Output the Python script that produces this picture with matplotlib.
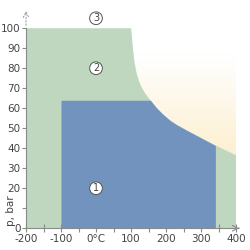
import numpy as np
import matplotlib.pyplot as plt
from matplotlib.patches import Polygon

# boundary of region 2 (upper limit), temperature in degC, pressure in bar
curve_t = [-200, 100, 101, 103, 106, 110, 116, 123, 131, 140, 150, 160, 173, 190,
           211, 230, 259, 340, 400]
curve_p = [100, 100, 99, 95, 89, 83, 77.5, 73.5, 70.3, 67.6, 65.2, 63, 60.2, 57.2,
           54, 51.8, 49, 41.5, 36.5]

# region 1 limits
r1_tmin = -100
r1_tmax = 341
r1_pmax = 64

xticks = [-200, -100, 0, 100, 200, 300, 400]
xlabels = ["-200", "-100", "0°C", "100", "200", "300", "400"]
yticks = [0, 10, 20, 30, 40, 50, 60, 70, 80, 90, 100]
ylabels = ["0", "", "20", "30", "40", "50", "60", "70", "80", "90", "100"]

green = "#bfd6bf"
blue = "#7193bd"
grey = "#8a8a8a"
text_c = "#444444"


def main():
    fig = plt.figure(figsize=(2.5, 2.5), dpi=100)
    ax = fig.add_axes([0.104, 0.087, 0.868, 0.88])
    ax.set_xlim(-200, 420)
    ax.set_ylim(0, 110)

    ct = np.array(curve_t, dtype=float)
    cp = np.array(curve_p, dtype=float)

    # region 2 (green)
    green_pts = [(-200, 0)] + list(zip(ct, cp)) + [(400, 0)]
    ax.add_patch(Polygon(green_pts, closed=True, fc=green, ec="none", zorder=1))

    # region 1 (blue): below min(p max, curve)
    tt = np.linspace(r1_tmin, r1_tmax, 400)
    top = np.minimum(r1_pmax, np.interp(tt, ct, cp))
    ax.fill_between(tt, 0, top, color=blue, lw=0, zorder=2)

    # yellow gradient region right of the curve
    ytop = 88
    mask = cp < ytop
    yel_pts = [(ct[mask][0] - 3, ytop)] + list(zip(ct[mask], cp[mask])) + [(400, ytop)]
    clip = Polygon(yel_pts, closed=True, fc="none", ec="none")
    ax.add_patch(clip)
    grad = np.linspace(0, 1, 256)
    img = np.ones((256, 1, 3))
    yel = np.array([253, 239, 207]) / 255.0
    for k in range(3):
        img[:, 0, k] = 1 - (1 - yel[k]) * (1 - grad) ** 1.1
    im = ax.imshow(img, extent=[100, 400, 36, ytop], origin="lower",
                   aspect="auto", zorder=0.5)
    im.set_clip_path(clip)

    # circled region numbers
    for lab, x, y in [("1", 0, 20), ("2", 0, 80), ("3", 0, 105)]:
        ax.text(x, y, lab, ha="center", va="center", fontsize=7, color=text_c,
                zorder=5, clip_on=False,
                bbox=dict(boxstyle="circle,pad=0.14", fc="white", ec="#555555", lw=0.7))

    # axes styling
    for s in ["top", "right"]:
        ax.spines[s].set_visible(False)
    ax.spines["left"].set_bounds(0, 100)
    ax.spines["bottom"].set_bounds(-200, 400)
    ax.spines["left"].set_color(grey)
    ax.spines["bottom"].set_color(grey)
    ax.spines["left"].set_zorder(6)
    ax.spines["bottom"].set_zorder(6)

    ax.set_xticks(xticks)
    ax.set_xticklabels(xlabels)
    ax.set_xticks([-150, -50, 50, 150, 250, 350], minor=True)
    ax.set_yticks(yticks)
    ax.set_yticklabels(ylabels)
    ax.tick_params(axis="x", direction="inout", length=6, width=0.8, color=grey,
                   labelsize=7.5, labelcolor=text_c, pad=1)
    ax.tick_params(axis="x", which="minor", direction="inout", length=6, width=0.8, color=grey)
    ax.tick_params(axis="y", direction="out", length=3, width=0.8, color=grey,
                   labelsize=7.5, labelcolor=text_c, pad=1)

    # arrows at axis ends
    ax.annotate("", xy=(-200, 110), xytext=(-200, 100),
                arrowprops=dict(arrowstyle="->", color=grey, lw=0.6, ls=(0, (2, 2))),
                annotation_clip=False)
    ax.annotate("", xy=(417, 0), xytext=(400, 0),
                arrowprops=dict(arrowstyle="->", color=grey, lw=0.8),
                annotation_clip=False)

    ax.text(-243, 9, "p, bar", rotation=90, ha="center", va="center",
            fontsize=7.5, color=text_c, clip_on=False)

    fig.savefig("out.png", dpi=100, facecolor="white")


if __name__ == "__main__":
    main()
